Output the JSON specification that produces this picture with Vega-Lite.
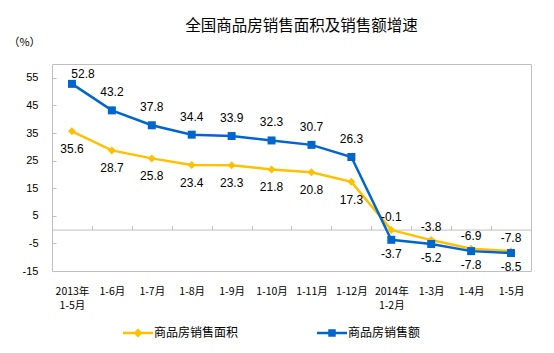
{
  "$schema": "https://vega.github.io/schema/vega-lite/v6.json",
  "width": 479,
  "height": 207,
  "autosize": {"type": "none"},
  "padding": {"left": 52, "top": 64, "right": 23, "bottom": 82},
  "background": "white",
  "config": {
    "view": {"stroke": "#BFBFBF", "strokeWidth": 1},
    "locale": {"number": {"decimal": ".", "thousands": ",", "grouping": [3], "currency": ["", ""], "minus": "-"}},
    "axis": {"grid": false}
  },
  "title": {
    "text": "全国商品房销售面积及销售额增速",
    "font": "Noto Sans CJK SC",
    "fontSize": 15.5,
    "fontWeight": "normal",
    "color": "#000000",
    "anchor": "middle",
    "dx": 10,
    "offset": 2
  },
  "data": {
    "values": [
      {"cat": "2013年\n1-5月", "series": "商品房销售面积", "value": 35.6},
      {"cat": "1-6月", "series": "商品房销售面积", "value": 28.7},
      {"cat": "1-7月", "series": "商品房销售面积", "value": 25.8},
      {"cat": "1-8月", "series": "商品房销售面积", "value": 23.4},
      {"cat": "1-9月", "series": "商品房销售面积", "value": 23.3},
      {"cat": "1-10月", "series": "商品房销售面积", "value": 21.8},
      {"cat": "1-11月", "series": "商品房销售面积", "value": 20.8},
      {"cat": "1-12月", "series": "商品房销售面积", "value": 17.3},
      {"cat": "2014年\n1-2月", "series": "商品房销售面积", "value": -0.1},
      {"cat": "1-3月", "series": "商品房销售面积", "value": -3.8},
      {"cat": "1-4月", "series": "商品房销售面积", "value": -6.9},
      {"cat": "1-5月", "series": "商品房销售面积", "value": -7.8},
      {"cat": "2013年\n1-5月", "series": "商品房销售额", "value": 52.8},
      {"cat": "1-6月", "series": "商品房销售额", "value": 43.2},
      {"cat": "1-7月", "series": "商品房销售额", "value": 37.8},
      {"cat": "1-8月", "series": "商品房销售额", "value": 34.4},
      {"cat": "1-9月", "series": "商品房销售额", "value": 33.9},
      {"cat": "1-10月", "series": "商品房销售额", "value": 32.3},
      {"cat": "1-11月", "series": "商品房销售额", "value": 30.7},
      {"cat": "1-12月", "series": "商品房销售额", "value": 26.3},
      {"cat": "2014年\n1-2月", "series": "商品房销售额", "value": -3.7},
      {"cat": "1-3月", "series": "商品房销售额", "value": -5.2},
      {"cat": "1-4月", "series": "商品房销售额", "value": -7.8},
      {"cat": "1-5月", "series": "商品房销售额", "value": -8.5}
    ]
  },
  "layer": [
    {
      "mark": {"type": "line", "strokeWidth": 2.5},
      "encoding": {
        "x": {
          "field": "cat", "type": "ordinal", "sort": null,
          "axis": {
            "orient": "bottom", "title": null, "labelAngle": 0, "ticks": false, "tickSize": 0, "domain": false,
            "labelExpr": "split(datum.value, '\\n')",
            "labelFont": "Noto Sans CJK SC", "labelFontSize": 10.5, "labelColor": "#000000",
            "labelPadding": 15, "labelLineHeight": 14
          }
        },
        "y": {
          "field": "value", "type": "quantitative",
          "scale": {"domain": [-15, 60], "nice": false, "zero": false},
          "axis": {
            "values": [55, 45, 35, 25, 15, 5, -5, -15],
            "tickCount": 20,
            "labelOverlap": false,
            "title": "（%）", "titleAngle": 0, "titleX": -28, "titleY": -22,
            "titleAlign": "center", "titleBaseline": "middle",
            "titleFont": "Noto Sans CJK SC", "titleFontSize": 11, "titleFontWeight": "normal", "titleColor": "#000000",
            "domain": false, "tickSize": -4, "tickColor": "#BFBFBF", "labelPadding": 18,
            "labelFont": "Liberation Sans", "labelFontSize": 11, "labelColor": "#000000"
          }
        },
        "color": {
          "field": "series", "type": "nominal",
          "scale": {"domain": ["商品房销售面积", "商品房销售额"], "range": ["#FFC000", "#0066CC"]},
          "legend": null
        }
      }
    },
    {
      "mark": {"type": "point", "filled": true, "size": 64, "opacity": 1},
      "encoding": {
        "x": {
          "field": "cat", "type": "ordinal", "sort": null,
          "axis": {
            "orient": "top", "offset": -165.6, "title": null, "labels": false,
            "ticks": true, "tickSize": 4, "tickColor": "#BFBFBF", "tickOffset": -20,
            "domain": true, "domainColor": "#BFBFBF"
          }
        },
        "y": {"field": "value", "type": "quantitative"},
        "color": {"field": "series", "type": "nominal", "legend": null},
        "shape": {
          "field": "series", "type": "nominal",
          "scale": {"domain": ["商品房销售面积", "商品房销售额"], "range": ["diamond", "square"]},
          "legend": null
        }
      }
    },
    {
      "transform": [{"filter": "datum.series == '商品房销售额' && datum.value > 0 && datum.value < 50"}],
      "mark": {"type": "text", "font": "Liberation Sans", "fontSize": 12, "color": "#000000", "baseline": "middle", "dy": -18},
      "encoding": {
        "x": {"field": "cat", "type": "ordinal", "sort": null, "axis": null},
        "y": {"field": "value", "type": "quantitative"},
        "text": {"field": "value", "type": "quantitative", "format": ".1f"}
      }
    },
    {
      "transform": [{"filter": "datum.series == '商品房销售额' && datum.value >= 50"}],
      "mark": {"type": "text", "font": "Liberation Sans", "fontSize": 12, "color": "#000000", "baseline": "middle", "dx": 11, "dy": -10},
      "encoding": {
        "x": {"field": "cat", "type": "ordinal", "sort": null, "axis": null},
        "y": {"field": "value", "type": "quantitative"},
        "text": {"field": "value", "type": "quantitative", "format": ".1f"}
      }
    },
    {
      "transform": [{"filter": "datum.series == '商品房销售面积' && datum.value > 0"}],
      "mark": {"type": "text", "font": "Liberation Sans", "fontSize": 12, "color": "#000000", "baseline": "middle", "dy": 18},
      "encoding": {
        "x": {"field": "cat", "type": "ordinal", "sort": null, "axis": null},
        "y": {"field": "value", "type": "quantitative"},
        "text": {"field": "value", "type": "quantitative", "format": ".1f"}
      }
    },
    {
      "transform": [{"filter": "datum.series == '商品房销售面积' && datum.value < 0"}],
      "mark": {"type": "text", "font": "Liberation Sans", "fontSize": 12, "color": "#000000", "baseline": "middle", "dy": -13},
      "encoding": {
        "x": {"field": "cat", "type": "ordinal", "sort": null, "axis": null},
        "y": {"field": "value", "type": "quantitative"},
        "text": {"field": "value", "type": "quantitative", "format": ".1f"}
      }
    },
    {
      "transform": [{"filter": "datum.series == '商品房销售额' && datum.value < 0"}],
      "mark": {"type": "text", "font": "Liberation Sans", "fontSize": 12, "color": "#000000", "baseline": "middle", "dy": 14},
      "encoding": {
        "x": {"field": "cat", "type": "ordinal", "sort": null, "axis": null},
        "y": {"field": "value", "type": "quantitative"},
        "text": {"field": "value", "type": "quantitative", "format": ".1f"}
      }
    },
    {
      "transform": [{"filter": "false"}],
      "mark": {"type": "point", "filled": true, "fill": "#FFC000"},
      "encoding": {
        "shape": {
          "field": "series", "type": "nominal",
          "scale": {"domain": ["商品房销售面积"], "range": ["M-1,-0.085L1,-0.085L1,0.085L-1,0.085ZM0,-0.3L0.3,0L0,0.3L-0.3,0Z"]},
          "legend": {
            "title": null, "orient": "none", "legendX": 71, "legendY": 254,
            "symbolSize": 900, "symbolStrokeWidth": 0, "symbolOpacity": 1,
            "symbolFillColor": "#FFC000",
            "labelFont": "Noto Sans CJK SC", "labelFontSize": 12, "labelColor": "#000000", "labelOffset": 1
          }
        }
      }
    },
    {
      "transform": [{"filter": "false"}],
      "mark": {"type": "point", "filled": true, "fill": "#0066CC"},
      "encoding": {
        "shape": {
          "field": "series", "type": "nominal",
          "scale": {"domain": ["商品房销售额"], "range": ["M-1,-0.085L1,-0.085L1,0.085L-1,0.085ZM-0.25,-0.25L0.25,-0.25L0.25,0.25L-0.25,0.25Z"]},
          "legend": {
            "title": null, "orient": "none", "legendX": 265, "legendY": 254,
            "symbolSize": 900, "symbolStrokeWidth": 0, "symbolOpacity": 1,
            "symbolFillColor": "#0066CC",
            "labelFont": "Noto Sans CJK SC", "labelFontSize": 12, "labelColor": "#000000", "labelOffset": 1
          }
        }
      }
    }
  ],
  "resolve": {"scale": {"shape": "independent"}, "legend": {"shape": "independent"}, "axis": {"x": "independent"}}
}
